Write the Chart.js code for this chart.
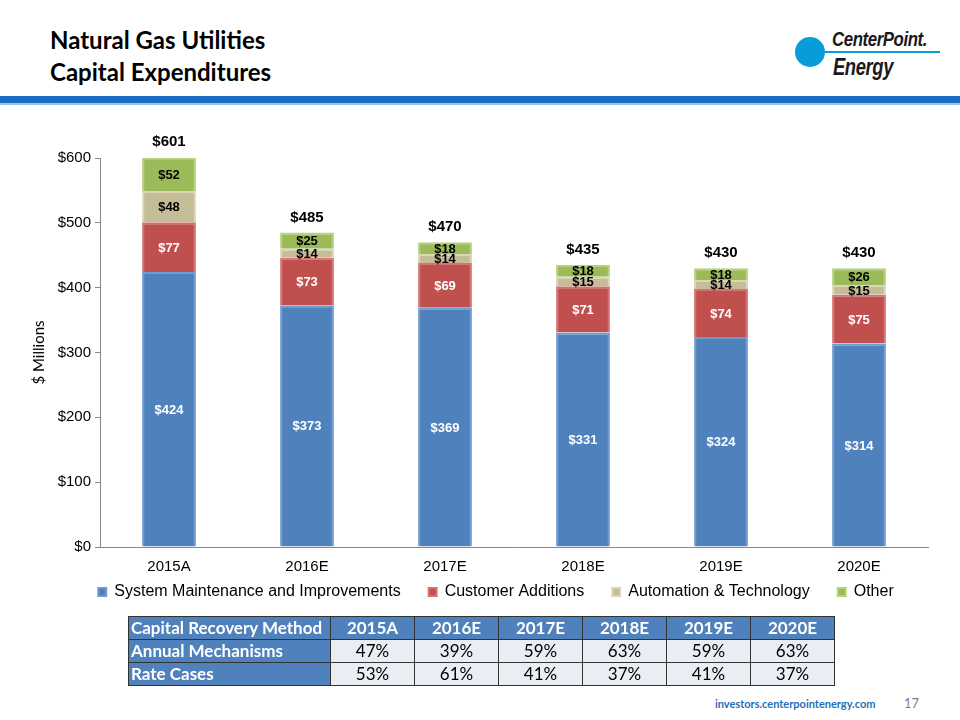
<!DOCTYPE html>
<html>
<head>
<meta charset="utf-8">
<script src="https://cdn.jsdelivr.net/npm/chart.js@4.4.0/dist/chart.umd.min.js"></script>
<style>
  body { margin: 0; width: 960px; height: 720px; overflow: hidden; background: #fff; position: relative; font-family: Lato, "Liberation Sans", sans-serif; }
  .title { position: absolute; left: 50px; top: 24px; font-family: Lato, sans-serif; font-weight: bold; font-size: 24px; line-height: 32px; color: #000; }
  .band { position: absolute; left: 0; top: 96px; width: 960px; height: 7px; background: #1B6EC2; }
  .band2 { position: absolute; left: 0; top: 103px; width: 960px; height: 2px; background: #9FC3E8; }
  .logo-dot { position: absolute; left: 795px; top: 37px; width: 30px; height: 30px; border-radius: 50%; background: #0A9BDB; }
  .logo-line { position: absolute; left: 810px; top: 51px; width: 130px; height: 2px; background: #0A9BDB; }
  .logo-t1, .logo-t2 { position: absolute; font-family: "Liberation Sans", sans-serif; font-style: italic; font-weight: bold; color: #1a1a1a; letter-spacing: -0.5px; transform-origin: left top; transform: scaleX(0.8); }
  .logo-t1 { left: 832px; top: 27px; font-size: 21px; }
  .logo-t2 { left: 833px; top: 54px; font-size: 23px; }
  #wrap { position: absolute; left: 0; top: 120px; width: 960px; height: 513px; }
  table { position: absolute; left: 128px; top: 616px; border-collapse: collapse; font-family: Lato, sans-serif; font-size: 17px; }
  td { border: 1px solid #333; height: 22px; padding: 0 2px; text-align: center; width: 79px; background: #E9EDF4; color: #000; line-height: 22px; }
  td.h { background: #4F81BD; color: #fff; font-weight: bold; }
  td.first { text-align: left; width: 197px; }
  .foot { position: absolute; left: 715px; top: 697px; font-family: Lato, sans-serif; font-weight: bold; font-size: 11px; color: #1F6FB8; }
  .page { position: absolute; left: 904px; top: 695px; font-family: Lato, sans-serif; font-size: 13px; color: #7f7f7f; }
</style>
</head>
<body>
<div class="title">Natural Gas Utilities<br>Capital Expenditures</div>
<div class="logo-dot"></div>
<div class="logo-line"></div>
<div class="logo-t1">CenterPoint.</div>
<div class="logo-t2">Energy</div>
<div class="band"></div>
<div class="band2"></div>
<div id="wrap"><canvas id="myChart"></canvas></div>
<table id="tbl"></table>
<div class="foot">investors.centerpointenergy.com</div>
<div class="page">17</div>
<script>
const years = ['2015A', '2016E', '2017E', '2018E', '2019E', '2020E'];
const maintenance = [424, 373, 369, 331, 324, 314];
const customerAdditions = [77, 73, 69, 71, 74, 75];
const automation = [48, 14, 14, 15, 14, 15];
const other = [52, 25, 18, 18, 18, 26];
const totals = [601, 485, 470, 435, 430, 430];
const yTicks = [0, 100, 200, 300, 400, 500, 600];

const tableHead = 'Capital Recovery Method';
const annualMechanisms = ['47%', '39%', '59%', '63%', '59%', '63%'];
const rateCases = ['53%', '61%', '41%', '37%', '41%', '37%'];

// table below the chart
const tbl = document.getElementById('tbl');
const row = (first, cells, head) => '<tr><td class="h first">' + first + '</td>' +
    cells.map(c => '<td' + (head ? ' class="h"' : '') + '>' + c + '</td>').join('') + '</tr>';
tbl.innerHTML = row(tableHead, years, true) + row('Annual Mechanisms', annualMechanisms) + row('Rate Cases', rateCases);

const labelColors = ['#fff', '#fff', '#000', '#000'];

const barLabels = {
    id: 'barLabels',
    afterDatasetsDraw(chart) {
        const { ctx } = chart;
        ctx.save();
        ctx.textAlign = 'center';
        ctx.textBaseline = 'middle';
        ctx.font = 'bold 13px "Liberation Sans", Arial, sans-serif';
        chart.data.datasets.forEach((ds, i) => {
            chart.getDatasetMeta(i).data.forEach((bar, j) => {
                const { x, y, base } = bar.getProps(['x', 'y', 'base'], true);
                ctx.fillStyle = labelColors[i];
                ctx.fillText('$' + ds.data[j], x, (y + base) / 2 + 1);
            });
        });
        ctx.font = 'bold 15px "Liberation Sans", Arial, sans-serif';
        ctx.fillStyle = '#000';
        const top = chart.getDatasetMeta(3).data;
        totals.forEach((t, j) => {
            ctx.fillText('$' + t, top[j].x, top[j].y - 15);
        });
        ctx.restore();
    }
};

// legend padding is wide for the gaps between items, pull it up a bit
const legendUp = {
    id: 'legendUp',
    afterLayout(chart) {
        const lg = chart.legend;
        lg.top -= 23;
        lg.bottom -= 23;
        lg.left += 17;
        lg.right += 17;
    }
};

const ctx = document.getElementById('myChart').getContext('2d');
new Chart(ctx, {
    type: 'bar',
    data: {
        labels: years,
        datasets: [
            { label: 'System Maintenance and Improvements', data: maintenance, backgroundColor: '#4F81BD', borderColor: '#6F9BD3' },
            { label: 'Customer Additions', data: customerAdditions, backgroundColor: '#C0504D', borderColor: '#D77370' },
            { label: 'Automation & Technology', data: automation, backgroundColor: '#C4BD97', borderColor: '#DCD6B6' },
            { label: 'Other', data: other, backgroundColor: '#9BBB59', borderColor: '#B5D27A' }
        ]
    },
    options: {
        responsive: true,
        maintainAspectRatio: false,
        animation: false,
        layout: { padding: { top: 38, left: 30, right: 32, bottom: 0 } },
        datasets: { bar: { barPercentage: 0.39, categoryPercentage: 1, borderWidth: 2 } },
        scales: {
            x: {
                stacked: true,
                grid: { display: false },
                border: { color: '#888' },
                ticks: { color: '#000', font: { family: '"Liberation Sans", Arial', size: 15 }, padding: 3 }
            },
            y: {
                stacked: true,
                min: 0,
                max: 600,
                afterFit(scale) { scale.width = 70; },
                afterBuildTicks(scale) { scale.ticks = yTicks.map(v => ({ value: v })); },
                grid: { drawOnChartArea: false, tickLength: 5, color: '#888' },
                border: { color: '#888' },
                title: { display: true, text: '$ Millions', color: '#000', font: { family: 'Lato', size: 15 }, padding: 0 },
                ticks: {
                    color: '#000',
                    font: { family: '"Liberation Sans", Arial', size: 15 },
                    padding: 4,
                    callback(value) { return '$' + value; }
                }
            }
        },
        plugins: {
            legend: {
                position: 'bottom',
                labels: {
                    boxWidth: 8,
                    boxHeight: 8,
                    padding: 28,
                    color: '#000',
                    font: { family: '"Liberation Sans", Arial', size: 16 }
                }
            },
            tooltip: { enabled: false }
        }
    },
    plugins: [barLabels, legendUp]
});
</script>
</body>
</html>
